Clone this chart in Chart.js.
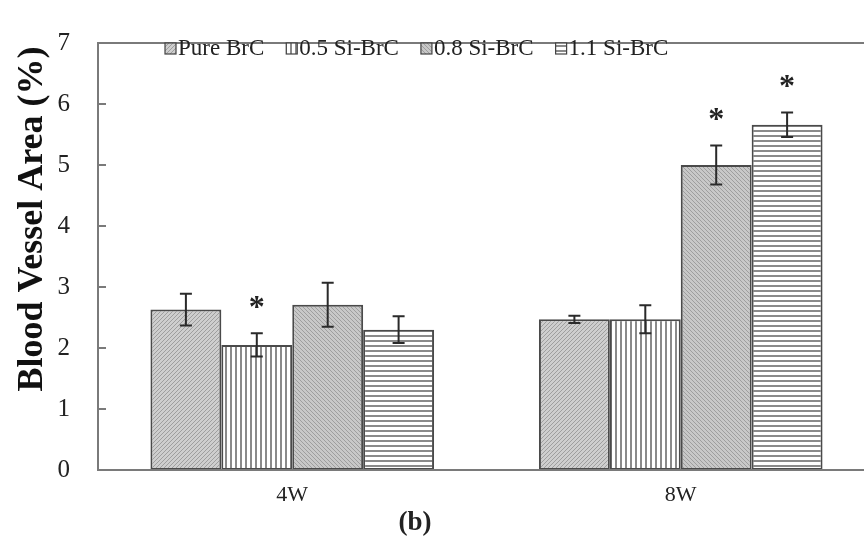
<!DOCTYPE html>
<html>
<head>
<meta charset="utf-8">
<script src="https://cdn.jsdelivr.net/npm/chart.js@4.4.1/dist/chart.umd.min.js"></script>
<style>
  html, body { margin: 0; padding: 0; background: #fff; overflow: hidden; }
  #wrap { width: 880px; height: 548px; }
</style>
</head>
<body>
<div id="wrap"><canvas id="chart" width="880" height="548"></canvas></div>
<script>
// data
const categories = ['4W', '8W'];
const seriesNames = ['Pure BrC', '0.5 Si-BrC', '0.8 Si-BrC', '1.1 Si-BrC'];
const pureBrC = [2.63, 2.47];
const pureBrCErr = [0.26, 0.06];
const si05 = [2.05, 2.47];
const si05Err = [0.19, 0.23];
const si08 = [2.71, 5.00];
const si08Err = [0.36, 0.32];
const si11 = [2.30, 5.66];
const si11Err = [0.22, 0.20];
// asterisk = significant difference
const si05Star = [true, false];
const si08Star = [false, true];
const si11Star = [false, true];
const yTicks = [0, 1, 2, 3, 4, 5, 6, 7];
const yTitle = 'Blood Vessel Area (%)';

const SERIF = '"Liberation Serif", "Times New Roman", serif';

function makePattern(kind) {
  const c = document.createElement('canvas');
  const s = kind === 'diagA' || kind === 'diagB' ? 4 : 5;
  c.width = s; c.height = s;
  const g = c.getContext('2d');
  if (kind === 'diagA' || kind === 'diagB') {
    g.fillStyle = kind === 'diagA' ? '#cecece' : '#c8c8c8';
    g.fillRect(0, 0, s, s);
    g.strokeStyle = '#9e9e9e';
    g.lineWidth = 1;
    g.beginPath();
    if (kind === 'diagA') {
      g.moveTo(0, s); g.lineTo(s, 0);
      g.moveTo(-1, 1); g.lineTo(1, -1);
      g.moveTo(s - 1, s + 1); g.lineTo(s + 1, s - 1);
    } else {
      g.moveTo(0, 0); g.lineTo(s, s);
      g.moveTo(-1, s - 1); g.lineTo(1, s + 1);
      g.moveTo(s - 1, -1); g.lineTo(s + 1, 1);
    }
    g.stroke();
  } else {
    g.fillStyle = '#ffffff';
    g.fillRect(0, 0, s, s);
    g.fillStyle = '#8a8a8a';
    if (kind === 'vert') g.fillRect(0, 0, 2, s);
    else g.fillRect(0, 0, s, 2);
  }
  return g.createPattern(c, 'repeat');
}

const ctx = document.getElementById('chart').getContext('2d');
const patterns = [makePattern('diagA'), makePattern('vert'), makePattern('diagB'), makePattern('horiz')];
const values = [pureBrC, si05, si08, si11];
const errors = [pureBrCErr, si05Err, si08Err, si11Err];
const stars = [[false, false], si05Star, si08Star, si11Star];

const datasets = seriesNames.map((name, i) => ({
  label: name,
  data: values[i],
  err: errors[i],
  star: stars[i],
  backgroundColor: patterns[i],
  borderColor: '#4a4a4a',
  borderWidth: 2,
  borderSkipped: false,
  categoryPercentage: 0.73,
  barPercentage: 1.0
}));

const decorations = {
  id: 'decorations',
  afterDatasetsDraw(chart) {
    const c = chart.ctx;
    const y = chart.scales.y;
    const area = chart.chartArea;
    c.save();
    // error bars + asterisks
    chart.data.datasets.forEach((ds, i) => {
      const meta = chart.getDatasetMeta(i);
      meta.data.forEach((bar, j) => {
        const v = ds.data[j], e = ds.err[j];
        const yt = y.getPixelForValue(v + e);
        const yb = y.getPixelForValue(v - e);
        c.strokeStyle = '#2a2a2a';
        c.lineWidth = 2;
        c.beginPath();
        c.moveTo(bar.x, yt); c.lineTo(bar.x, yb);
        c.moveTo(bar.x - 6, yt); c.lineTo(bar.x + 6, yt);
        c.moveTo(bar.x - 6, yb); c.lineTo(bar.x + 6, yb);
        c.stroke();
        if (ds.star[j]) {
          c.fillStyle = '#222';
          c.font = 'bold 32px ' + SERIF;
          c.textAlign = 'center';
          c.textBaseline = 'middle';
          c.fillText('*', bar.x, yt - 25);
        }
      });
    });
    // frame and inward ticks
    c.strokeStyle = '#7a7a7a';
    c.lineWidth = 2;
    c.strokeRect(area.left, area.top, area.right - area.left, area.bottom - area.top);
    c.beginPath();
    y.ticks.forEach(t => {
      const py = y.getPixelForValue(t.value);
      c.moveTo(area.left, py); c.lineTo(area.left + 8, py);
    });
    c.stroke();
    // legend inside plot
    c.font = '23px ' + SERIF;
    c.textAlign = 'left';
    c.textBaseline = 'middle';
    let lx = 165;
    const ly = 49;
    chart.data.datasets.forEach(ds => {
      c.fillStyle = ds.backgroundColor;
      c.fillRect(lx, ly - 6, 11, 11);
      c.strokeStyle = '#444';
      c.lineWidth = 1.2;
      c.strokeRect(lx, ly - 6, 11, 11);
      c.fillStyle = '#222';
      c.fillText(ds.label, lx + 13, ly);
      lx += 13 + c.measureText(ds.label).width + 22;
    });
    // y axis title
    c.save();
    c.translate(33, 219);
    c.rotate(-Math.PI / 2);
    c.font = 'bold 36px ' + SERIF;
    c.textAlign = 'center';
    c.textBaseline = 'middle';
    c.fillStyle = '#111';
    c.fillText(yTitle, 0, 0);
    c.restore();
    // panel label
    c.font = 'bold 27px ' + SERIF;
    c.textAlign = 'center';
    c.fillStyle = '#222';
    c.fillText('(b)', 415, 523);
    c.restore();
  }
};

new Chart(ctx, {
  type: 'bar',
  data: { labels: categories, datasets: datasets },
  options: {
    responsive: false,
    animation: false,
    devicePixelRatio: 1,
    layout: { padding: { top: 22, right: 5, left: 0, bottom: 0 } },
    plugins: { legend: { display: false }, tooltip: { enabled: false } },
    scales: {
      x: {
        grid: { display: false, drawTicks: false },
        border: { display: false },
        ticks: { color: '#222', font: { family: SERIF, size: 22 }, padding: 12 },
        afterFit(scale) { scale.height = 78; }
      },
      y: {
        min: 0,
        max: 7,
        afterBuildTicks(scale) { scale.ticks = yTicks.map(v => ({ value: v })); },
        grid: { display: false, drawTicks: false },
        border: { display: false },
        ticks: { color: '#222', font: { family: SERIF, size: 25 }, padding: 28 },
        afterFit(scale) { scale.width = 98; }
      }
    }
  },
  plugins: [decorations]
});
</script>
</body>
</html>
